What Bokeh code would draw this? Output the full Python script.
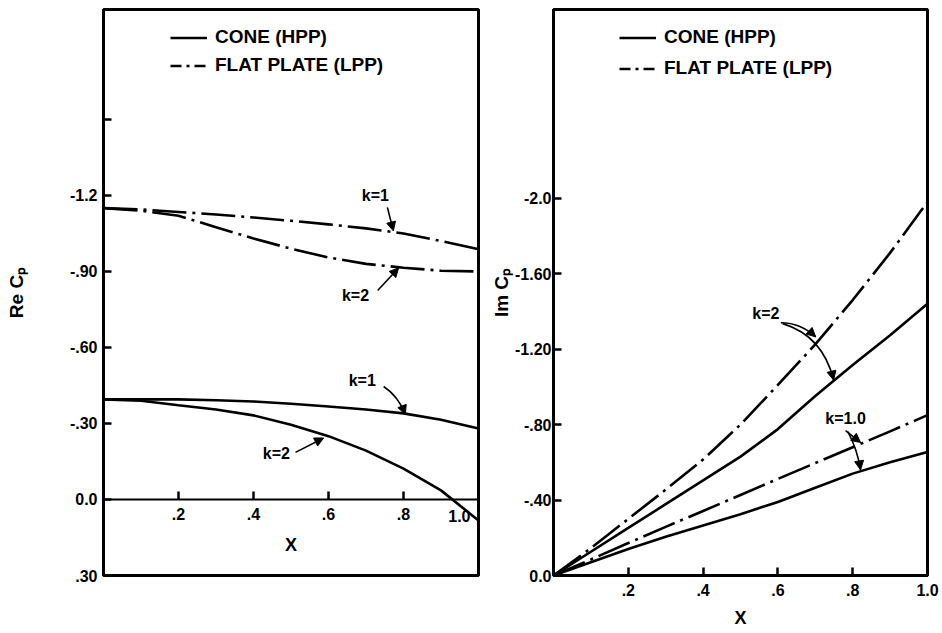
from bokeh.plotting import figure
from bokeh.models import Range1d, FixedTicker, Legend, LegendItem, Arrow, NormalHead, Label
from bokeh.layouts import row
from bokeh.embed import file_html
from bokeh.resources import INLINE

# ---------------- data ----------------
x_vals = [0.0, 0.1, 0.2, 0.3, 0.4, 0.5, 0.6, 0.7, 0.8, 0.9, 1.0]

# Re Cp (left panel)
re_cone_k1 = [-0.395, -0.395, -0.395, -0.392, -0.387, -0.378, -0.367, -0.355, -0.340, -0.315, -0.280]
re_cone_k2 = [-0.395, -0.390, -0.372, -0.355, -0.332, -0.295, -0.250, -0.193, -0.122, -0.036, 0.083]
re_flat_k1 = [-1.150, -1.145, -1.135, -1.125, -1.113, -1.100, -1.086, -1.070, -1.050, -1.020, -0.988]
re_flat_k2 = [-1.150, -1.140, -1.120, -1.075, -1.030, -0.990, -0.955, -0.930, -0.915, -0.903, -0.900]

# Im Cp (right panel)
im_cone_k1 = [0.0, -0.07, -0.14, -0.205, -0.265, -0.325, -0.39, -0.465, -0.54, -0.60, -0.655]
im_cone_k2 = [0.0, -0.126, -0.252, -0.378, -0.504, -0.63, -0.776, -0.951, -1.116, -1.273, -1.44]
im_flat_k1 = [0.0, -0.085, -0.172, -0.258, -0.342, -0.427, -0.512, -0.596, -0.68, -0.764, -0.85]
im_flat_k2 = [0.0, -0.145, -0.30, -0.455, -0.615, -0.80, -1.01, -1.225, -1.46, -1.71, -1.98]

# ticks
x_ticks = [0.2, 0.4, 0.6, 0.8, 1.0]
x_tick_labels = [".2", ".4", ".6", ".8", "1.0"]
left_y_ticks = [-1.5, -1.2, -0.9, -0.6, -0.3, 0.0, 0.3]
left_y_tick_labels = ["", "-1.2", "-.90", "-.60", "-.30", "0.0", ".30"]
right_y_ticks = [0.0, -0.4, -0.8, -1.2, -1.6, -2.0]
right_y_tick_labels = ["0.0", "-.40", "-.80", "-1.20", "-1.60", "-2.0"]

legend_labels = ["CONE (HPP)", "FLAT PLATE (LPP)"]

# ---------------- style ----------------
FONT = "Liberation Sans"
DASHDOT = "34 6 3 6"
LEGEND_DASHDOT = "11 5 3 5"
LW = 2.6
FRAME_H = 566
ROW_H = 23


def style(p, xt, xl, yt, yl, ylabel):
    p.xgrid.visible = False
    p.ygrid.visible = False
    p.outline_line_color = "black"
    p.outline_line_width = 3
    p.background_fill_color = "white"
    p.border_fill_color = "white"
    for ax in (p.xaxis[0], p.yaxis[0]):
        ax.major_tick_in = 8
        ax.major_tick_out = 0
        ax.minor_tick_line_color = None
        ax.major_tick_line_width = 2.5
        ax.axis_line_width = 3
        ax.major_label_text_font = FONT
        ax.major_label_text_font_style = "bold"
        ax.major_label_text_font_size = "16px"
        ax.major_label_text_color = "black"
        ax.axis_label_text_font = FONT
        ax.axis_label_text_font_style = "bold"
        ax.axis_label_text_color = "black"
    p.xaxis[0].ticker = FixedTicker(ticks=xt)
    p.xaxis[0].major_label_overrides = dict(zip(xt, xl))
    p.yaxis[0].ticker = FixedTicker(ticks=yt)
    p.yaxis[0].major_label_overrides = dict(zip(yt, yl))
    p.xaxis[0].axis_label = "X"
    p.xaxis[0].axis_label_text_font_size = "18px"
    p.yaxis[0].axis_label = ylabel
    p.yaxis[0].axis_label_text_font_size = "19px"


def add_legend(p, x0, y_cone, y_flat, vx, top, spacing):
    # single-point sample lines (draw nothing in the plot) carrying the legend's dash pattern
    s_cone = p.line(x=[x0], y=[y_cone], line_width=LW, line_color="black")
    s_flat = p.line(x=[x0], y=[y_flat], line_width=LW, line_color="black", line_dash=LEGEND_DASHDOT)
    legend_h = 2 * ROW_H + spacing
    lg = Legend(
        items=[LegendItem(label=legend_labels[0], renderers=[s_cone]),
               LegendItem(label=legend_labels[1], renderers=[s_flat])],
        location=(vx, FRAME_H - top - legend_h),
        orientation="vertical",
        padding=0, margin=0, spacing=spacing,
        glyph_width=37, glyph_height=ROW_H, label_height=ROW_H,
        label_standoff=8,
        label_text_font=FONT, label_text_font_style="bold",
        label_text_font_size="19px", label_text_color="black",
        border_line_color=None, background_fill_alpha=0,
    )
    p.add_layout(lg)


def k_label(p, x, y, text):
    p.add_layout(Label(x=x, y=y, text=text, text_align="center", text_baseline="middle",
                       text_font=FONT, text_font_style="bold", text_font_size="16px",
                       text_color="black"))


def straight_arrow(p, x0, y0, x1, y1):
    p.add_layout(Arrow(end=NormalHead(size=9, fill_color="black", line_color="black"),
                       x_start=x0, y_start=y0, x_end=x1, y_end=y1,
                       line_width=1.6, line_color="black"))


def curved_arrow(p, x0, y0, cx, cy, x1, y1):
    p.quadratic(x0=[x0], y0=[y0], x1=[x1], y1=[y1], cx=[cx], cy=[cy],
                line_width=1.6, line_color="black")
    tx = x1 - 0.15 * (x1 - cx)
    ty = y1 - 0.15 * (y1 - cy)
    p.add_layout(Arrow(end=NormalHead(size=9, fill_color="black", line_color="black"),
                       x_start=tx, y_start=ty, x_end=x1, y_end=y1,
                       line_width=1.6, line_color="black"))


# ---------------- left panel ----------------
p1 = figure(width=488, height=633, title=None,
            x_range=Range1d(0, 1.0), y_range=Range1d(0.30, -1.934),
            output_backend="svg", toolbar_location=None,
            min_border_left=103, min_border_right=10, min_border_top=9, min_border_bottom=58)
# the last x label sits at the frame edge; it is drawn separately, shifted inside
left_x_labels = x_tick_labels[:-1] + [""]
style(p1, x_ticks, left_x_labels, left_y_ticks, left_y_tick_labels, "Re C\u209a")
p1.xaxis[0].fixed_location = 0
p1.xaxis[0].axis_line_width = 2
p1.xaxis[0].major_label_standoff = 9
p1.xaxis[0].axis_label_standoff = 11
p1.yaxis[0].major_label_standoff = 6
p1.yaxis[0].axis_label_standoff = 40
p1.add_layout(Label(x=x_ticks[-1], y=0.065, text=x_tick_labels[-1], x_offset=-8,
                    text_align="right", text_baseline="middle",
                    text_font=FONT, text_font_style="bold", text_font_size="16px",
                    text_color="black"))

p1.line(x_vals, re_cone_k1, line_width=LW, line_color="black")
p1.line(x_vals, re_cone_k2, line_width=LW, line_color="black")
p1.line(x_vals, re_flat_k1, line_width=LW, line_color="black", line_dash=DASHDOT)
p1.line(x_vals, re_flat_k2, line_width=LW, line_color="black", line_dash=DASHDOT)
add_legend(p1, x_vals[0], re_cone_k1[0], re_flat_k1[0], 67, 16.5, 5)

k_label(p1, 0.725, -1.20, "k=1")
straight_arrow(p1, 0.757, -1.153, 0.773, -1.060)
k_label(p1, 0.672, -0.805, "k=2")
straight_arrow(p1, 0.731, -0.825, 0.787, -0.914)
k_label(p1, 0.69, -0.47, "k=1")
curved_arrow(p1, 0.747, -0.446, 0.785, -0.41, 0.805, -0.336)
k_label(p1, 0.461, -0.18, "k=2")
straight_arrow(p1, 0.512, -0.186, 0.587, -0.243)

# ---------------- right panel ----------------
p2 = figure(width=454, height=633, title=None,
            x_range=Range1d(0, 1.0), y_range=Range1d(0.0, -3.0),
            output_backend="svg", toolbar_location=None,
            min_border_left=64, min_border_right=15, min_border_top=9, min_border_bottom=58)
style(p2, x_ticks, x_tick_labels, right_y_ticks, right_y_tick_labels, "Im C\u209a")
p2.xaxis[0].major_label_standoff = 8
p2.xaxis[0].axis_label_standoff = 9
p2.yaxis[0].major_label_standoff = 2
p2.yaxis[0].axis_label_standoff = 0

p2.line(x_vals, im_cone_k1, line_width=LW, line_color="black")
p2.line(x_vals, im_cone_k2, line_width=LW, line_color="black")
p2.line(x_vals, im_flat_k1, line_width=LW, line_color="black", line_dash=DASHDOT)
p2.line(x_vals, im_flat_k2, line_width=LW, line_color="black", line_dash=DASHDOT)
add_legend(p2, x_vals[0], im_cone_k1[0], im_flat_k1[0], 66, 16.5, 8)

k_label(p2, 0.568, -1.388, "k=2")
curved_arrow(p2, 0.608, -1.34, 0.66, -1.34, 0.701, -1.265)
curved_arrow(p2, 0.613, -1.335, 0.72, -1.27, 0.749, -1.036)
k_label(p2, 0.781, -0.832, "k=1.0")
straight_arrow(p2, 0.781, -0.768, 0.821, -0.705)
curved_arrow(p2, 0.787, -0.762, 0.812, -0.67, 0.821, -0.56)

layout = row(p1, p2)
open("out.html", "w").write(file_html(layout, INLINE))
